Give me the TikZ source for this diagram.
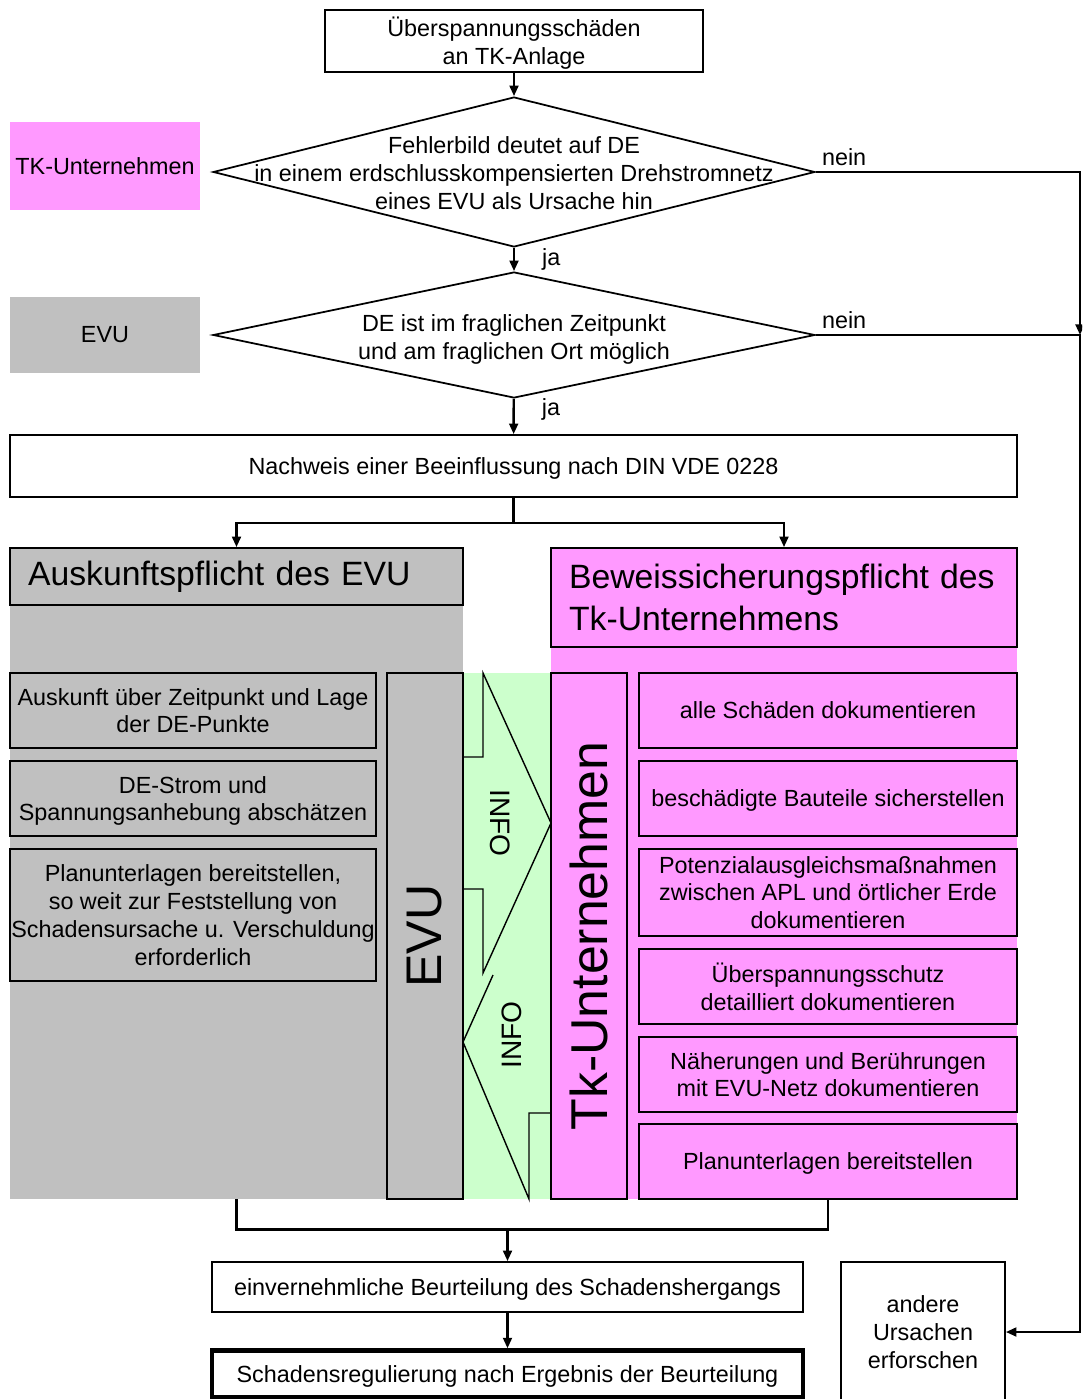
\documentclass[tikz,border=0pt]{standalone}
\usepackage{fontspec}
\setmainfont{Liberation Sans}
\usetikzlibrary{shapes.geometric,arrows.meta,positioning}
\definecolor{tkpink}{HTML}{FF99FF}
\definecolor{evugray}{HTML}{C0C0C0}
\definecolor{infogreen}{HTML}{CCFFCC}

\begin{document}
\begin{tikzpicture}[x=0.02cm, y=-0.02cm,
    every node/.style={font=\fontsize{13.3}{15.9}\selectfont},
    box/.style={draw, line width=1pt, align=center, inner sep=0pt, text depth=0pt},
    decision/.style={draw, diamond, line width=1pt, inner sep=0pt, minimum width=12.04cm},
    flow/.style={line width=1.4pt, -{Triangle[length=6pt,width=5pt]}},
    link/.style={line width=1.4pt},
    head/.style={draw, line width=1pt, align=left, inner xsep=0.36cm, font=\fontsize{19.2}{24}\selectfont},
    big/.style={draw, line width=1pt, rotate=90, minimum width=10.52cm, minimum height=1.52cm, inner sep=0pt}]
  \useasboundingbox (0,0) rectangle (1082,1399);
  \clip (0,0) rectangle (1082,1399);

  % oberer Teil
  \node[box, minimum width=7.56cm, minimum height=1.24cm] (start) at (514,41) {Überspannungsschäden\\an TK-Anlage};
  \node[decision, minimum height=3cm] (d1) at (514,172) {};
  \node[align=center, yshift=-0.6pt] (d1t) at (d1) {Fehlerbild deutet auf DE\\in einem erdschlusskompensierten Drehstromnetz\\eines EVU als Ursache hin};
  \node[fill=tkpink, minimum width=3.8cm, minimum height=1.76cm, inner sep=0pt] (tklab) at (105,166) {TK-Unternehmen};
  \node[decision, minimum height=2.52cm] (d2) at (514,335) {};
  \node[align=center, text depth=0pt, yshift=-1pt] (d2t) at (d2) {DE ist im fraglichen Zeitpunkt\\und am fraglichen Ort möglich};
  \node[fill=evugray, minimum width=3.8cm, minimum height=1.52cm, inner sep=0pt] (evulab) at (105,335) {EVU};
  \node[box, minimum width=20.14cm, minimum height=1.24cm] (nachweis) at (513.5,466) {Nachweis einer Beeinflussung nach DIN VDE 0228};

  % Flaechen
  \node[fill=evugray, minimum width=9.06cm, minimum height=13.02cm, inner sep=0pt] (evuArea) at (236.5,873.5) {};
  \node[fill=tkpink, minimum width=9.32cm, minimum height=13.02cm, inner sep=0pt] (tkArea) at (784,873.5) {};
  \node[fill=infogreen, minimum width=1.76cm, minimum height=10.52cm, inner sep=0pt] (infoArea) at (507,936) {};

  \node[head, fill=evugray, text width=8.34cm, minimum height=1.14cm] (headL) at (236.5,576.5) {\raisebox{-2.5pt}{Auskunftspflicht des EVU}};
  \node[head, fill=tkpink, text width=8.6cm, minimum height=1.98cm] (headR) at (784,597.5) {Beweissicherungspflicht~des\\Tk-Unternehmens};

  % linke Spalte
  \node[box, minimum width=7.32cm, minimum height=1.5cm] (a1) at (193,710.5) {Auskunft über Zeitpunkt und Lage\\der DE-Punkte};
  \node[box, minimum width=7.32cm, minimum height=1.5cm] (a2) at (193,798.5) {DE-Strom und\\Spannungsanhebung abschätzen};
  \node[box, minimum width=7.32cm, minimum height=2.64cm] (a3) at (193,915) {Planunterlagen bereitstellen,\\so weit zur Feststellung von\\Schadensursache u. Verschuldung\\erforderlich};
  \node[big, fill=evugray, font=\fontsize{28.5}{30}\selectfont] (evuT) at (425,936) {EVU};
  \node[big, fill=tkpink, font=\fontsize{29.5}{30}\selectfont] (tkT) at (589,936) {Tk-Unternehmen};

  % rechte Spalte
  \node[box, minimum width=7.56cm, minimum height=1.5cm] (b1) at (828,710.5) {alle Schäden dokumentieren};
  \node[box, minimum width=7.56cm, minimum height=1.5cm] (b2) at (828,798.5) {beschädigte Bauteile sicherstellen};
  \node[box, minimum width=7.56cm, minimum height=1.74cm] (b3) at (828,892.5) {Potenzialausgleichsmaßnahmen\\zwischen APL und örtlicher Erde\\dokumentieren};
  \node[box, minimum width=7.56cm, minimum height=1.5cm] (b4) at (828,986.5) {Überspannungsschutz\\detailliert dokumentieren};
  \node[box, minimum width=7.56cm, minimum height=1.5cm] (b5) at (828,1074.5) {Näherungen und Berührungen\\mit EVU-Netz dokumentieren};
  \node[box, minimum width=7.56cm, minimum height=1.5cm] (b6) at (828,1161.5) {Planunterlagen bereitstellen};

  % INFO-Pfeile
  \draw[line width=0.8pt] (463,757) -- (483,757) -- (483,673) -- (551,823) -- (483,973) -- (483,889) -- (463,889);
  \draw[line width=0.8pt] (551,1113) -- (529,1113) -- (529,1199) -- (463,1042) -- (493,975);
  \node[rotate=-90, font=\fontsize{16}{16}\selectfont] (info1) at (500,823) {INFO};
  \node[rotate=90, font=\fontsize{16}{16}\selectfont] (info2) at (512,1035) {INFO};

  % unterer Teil
  \node[box, minimum width=11.82cm, minimum height=1cm] (einv) at (507.5,1287) {einvernehmliche Beurteilung des Schadenshergangs};
  \node[box, line width=2.5pt, minimum width=11.82cm, minimum height=0.94cm] (regul) at (507.5,1374) {Schadensregulierung nach Ergebnis der Beurteilung};
  \node[box, minimum width=3.28cm, minimum height=2.8cm] (andere) at (923,1332) {andere\\Ursachen\\erforschen};

  % Verbindungen
  \coordinate (j1) at (1080,335);
  \draw[flow] (start) -- (d1);
  \draw[flow] (d1) -- node[right=12pt] (ja1) {ja} (d2);
  \draw[flow] (d2) -- node[pos=0.3, right=12pt] (ja2) {ja} (nachweis);
  \draw[flow] (d1.east) -| (j1);
  \draw[flow] (d2.east) -- (j1) |- (andere.east);
  \node[anchor=south west] (nein1) at (d1.east) {nein};
  \node[anchor=south west] (nein2) at (d2.east) {nein};
  \draw[link] (nachweis.south) -- ++(0,25) coordinate (split);
  \draw[flow] (split) -| (headL.north);
  \draw[flow] (split) -| (headR.north);
  \draw[link] (evuArea.south) -- ++(0,30) coordinate (m1) -| (b6.south);
  \draw[flow] (m1 -| einv.north) -- (einv.north);
  \draw[flow] (einv) -- (regul);
\end{tikzpicture}
\end{document}
